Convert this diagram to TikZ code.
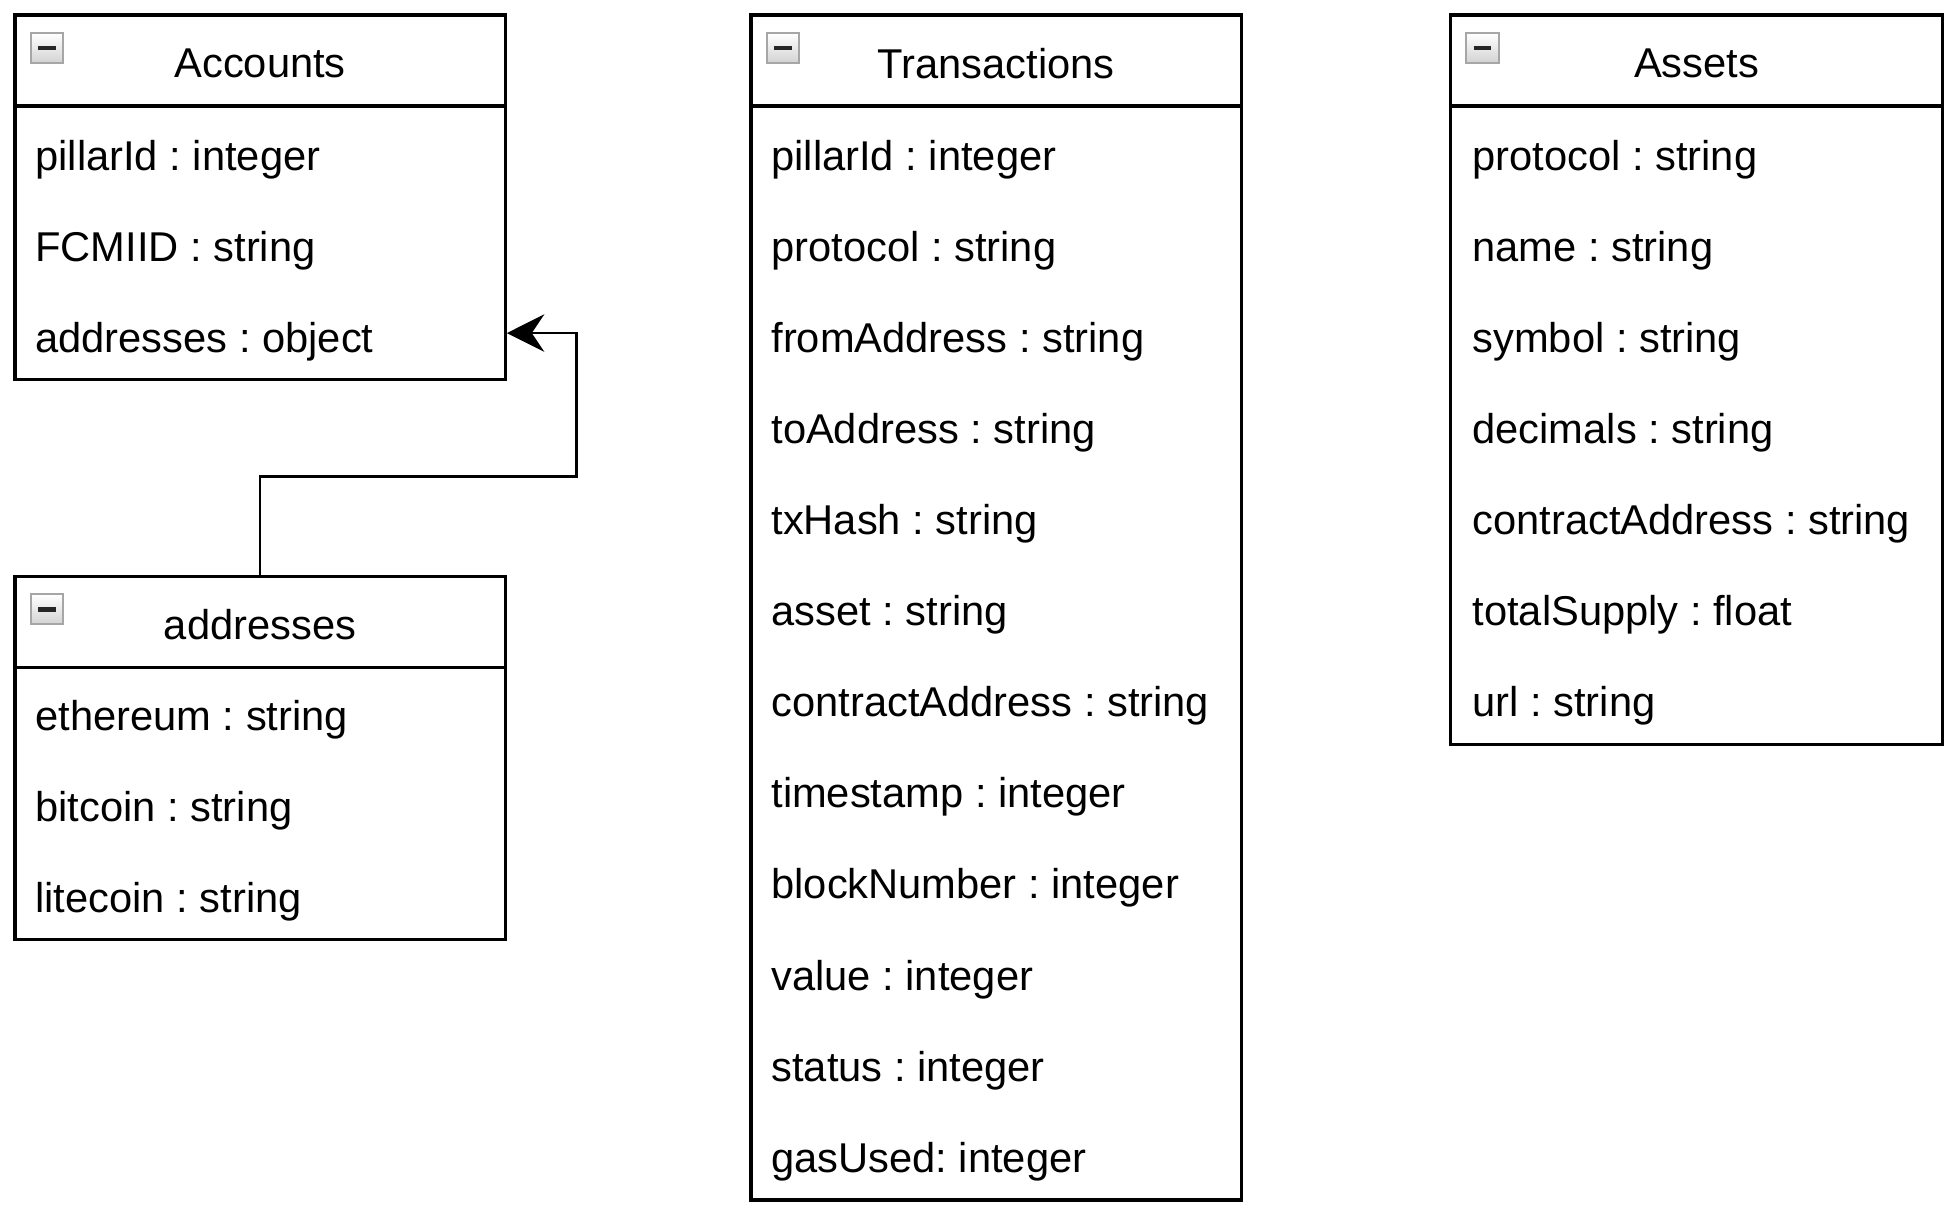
\documentclass[tikz,border=0pt]{standalone}
\usepackage{fontspec}
\setmainfont{Liberation Sans}
\usetikzlibrary{arrows.meta}
\frenchspacing
\begin{document}
\begin{tikzpicture}[x=0.5pt,y=-0.5pt,
  classbox/.style={draw=black,line width=1.3pt,rectangle,inner sep=0pt,fill=white},
  divider/.style={draw=black,line width=1.3pt},
  attr/.style={anchor=west,inner sep=0pt,font=\fontsize{16.7}{20}\selectfont},
  ttl/.style={anchor=center,inner sep=0pt,font=\fontsize{16.7}{20}\selectfont},
  icon/.style={draw=gray!70,line width=0.8pt,top color=white,bottom color=gray!35,rectangle,inner sep=0pt,minimum width=13pt,minimum height=12pt},
  bar/.style={line width=1.8pt,draw=black!85},
  conn/.style={draw=black,line width=1.1pt,-{Stealth[length=15pt,width=15pt,inset=5pt]}}]
\useasboundingbox (0,0) rectangle (1568,971.6);

% ---------- Accounts ----------
\node[classbox,minimum width=196.5pt,minimum height=146pt] (acc) at (208.5,158) {};
\draw[divider] (12,85) -- (405,85);
\node[icon] (accicon) at (37.5,38.5) {};
\draw[bar] (30.5,38.5) -- (44.5,38.5);
\node[ttl] (acct) at (208.5,51) {Accounts};
\node[attr] (acc1) at (28,128) {pillarId : integer};
\node[attr] (acc2) at (28,201) {FCMIID : string};
\node[attr] (acc3) at (28,274) {addresses : object};

% ---------- addresses ----------
\node[classbox,minimum width=196.5pt,minimum height=145.5pt] (adr) at (208.5,607.5) {};
\draw[divider] (12,535) -- (405,535);
\node[icon] (adricon) at (37.5,488.5) {};
\draw[bar] (30.5,488.5) -- (44.5,488.5);
\node[ttl] (adrt) at (208.5,501) {addresses};
\node[attr] (adr1) at (28,577) {ethereum : string};
\node[attr] (adr2) at (28,650) {bitcoin : string};
\node[attr] (adr3) at (28,723) {litecoin : string};

% ---------- Transactions ----------
\node[classbox,minimum width=196.5pt,minimum height=475pt] (trx) at (798.5,487) {};
\draw[divider] (602,85) -- (995,85);
\node[icon] (trxicon) at (627.5,38.5) {};
\draw[bar] (620.5,38.5) -- (634.5,38.5);
\node[ttl] (trxt) at (798.5,51) {Transactions};
\node[attr] (t1) at (618,128) {pillarId : integer};
\node[attr] (t2) at (618,201) {protocol : string};
\node[attr] (t3) at (618,274) {fromAddress : string};
\node[attr] (t4) at (618,347) {toAddress : string};
\node[attr] (t5) at (618,420) {txHash : string};
\node[attr] (t6) at (618,493) {asset : string};
\node[attr] (t7) at (618,566) {contractAddress : string};
\node[attr] (t8) at (618,639) {timestamp : integer};
\node[attr] (t9) at (618,712) {blockNumber : integer};
\node[attr] (t10) at (618,785) {value : integer};
\node[attr] (t11) at (618,858) {status : integer};
\node[attr] (t12) at (618,931) {gasUsed: integer};

% ---------- Assets ----------
\node[classbox,minimum width=197pt,minimum height=292.5pt] (ast) at (1360,304.5) {};
\draw[divider] (1163,85) -- (1557,85);
\node[icon] (asticon) at (1188.5,38.5) {};
\draw[bar] (1181.5,38.5) -- (1195.5,38.5);
\node[ttl] (astt) at (1360,51) {Assets};
\node[attr] (s1) at (1180,128) {protocol : string};
\node[attr] (s2) at (1180,201) {name : string};
\node[attr] (s3) at (1180,274) {symbol : string};
\node[attr] (s4) at (1180,347) {decimals : string};
\node[attr] (s5) at (1180,420) {contractAddress : string};
\node[attr] (s6) at (1180,493) {totalSupply : float};
\node[attr] (s7) at (1180,566) {url : string};

% ---------- connector ----------
\coordinate (b1) at (208.5,382);
\coordinate (b2) at (462,267);
\coordinate (tip) at (405,267);
\draw[conn] (adr.north) -- (b1) -| (b2) -- (acc.east |- tip);
\end{tikzpicture}
\end{document}
